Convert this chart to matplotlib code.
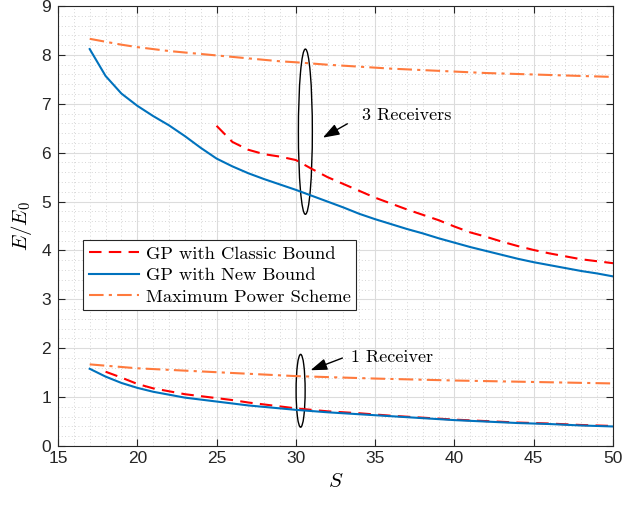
import matplotlib.pyplot as plt
from matplotlib.patches import Ellipse
from matplotlib.ticker import MultipleLocator

# 3 receivers
s_max3 = [17, 18, 19, 20, 21, 22, 23, 24, 25, 26, 27, 28, 29, 30, 32, 34, 36, 38, 40, 42, 44, 46, 48, 50]
e_max3 = [8.33, 8.27, 8.21, 8.16, 8.12, 8.08, 8.05, 8.02, 7.99, 7.96, 7.93, 7.90, 7.87, 7.85,
          7.80, 7.76, 7.72, 7.69, 7.66, 7.63, 7.61, 7.59, 7.57, 7.55]
s_new3 = list(range(17, 51))
e_new3 = [8.12, 7.57, 7.21, 6.96, 6.75, 6.56, 6.34, 6.10, 5.88, 5.72, 5.58, 5.46, 5.35, 5.24,
          5.12, 5.00, 4.88, 4.75, 4.64, 4.54, 4.44, 4.35, 4.25, 4.16,
          4.07, 3.99, 3.91, 3.83, 3.76, 3.70, 3.64, 3.58, 3.53, 3.47]
s_cls3 = list(range(25, 51))
e_cls3 = [6.55, 6.22, 6.06, 5.97, 5.92, 5.85, 5.67, 5.50, 5.36, 5.22, 5.08, 4.96, 4.84, 4.73,
          4.62, 4.49, 4.37, 4.28, 4.18, 4.09, 4.01, 3.94, 3.88, 3.82, 3.78, 3.74]

# 1 receiver
s_max1 = [17, 20, 25, 30, 35, 40, 45, 50]
e_max1 = [1.67, 1.59, 1.51, 1.43, 1.38, 1.34, 1.31, 1.28]
s_new1 = [17, 18, 19, 20, 21, 22, 23, 24, 25, 26, 27, 28, 29, 30, 32, 34, 36, 38, 40, 42, 44, 46, 48, 50]
e_new1 = [1.58, 1.42, 1.29, 1.19, 1.11, 1.05, 0.99, 0.95, 0.91, 0.87, 0.83, 0.80, 0.77, 0.74,
          0.69, 0.65, 0.61, 0.57, 0.53, 0.50, 0.47, 0.45, 0.42, 0.40]
s_cls1 = [18, 19, 20, 21, 22, 23, 24, 25, 26, 27, 28, 29, 30, 32, 34, 36, 38, 40, 42, 44, 46, 48, 50]
e_cls1 = [1.52, 1.40, 1.27, 1.18, 1.12, 1.06, 1.02, 0.98, 0.94, 0.89, 0.85, 0.81, 0.77,
          0.71, 0.67, 0.62, 0.58, 0.54, 0.51, 0.48, 0.46, 0.43, 0.41]

labels = ['GP with Classic Bound', 'GP with New Bound', 'Maximum Power Scheme']

plt.rcParams['mathtext.fontset'] = 'cm'
blue = '#0072BD'
red = '#FF0000'
orange = '#FF7A3D'

fig = plt.figure(figsize=(6.25, 5.05), dpi=100)
ax = fig.add_axes([0.0928, 0.1168, 0.888, 0.8712])

ax.plot(s_cls3, e_cls3, '--', color=red, lw=1.5, dashes=(6, 3.5), label=labels[0])
ax.plot(s_new3, e_new3, '-', color=blue, lw=1.5, label=labels[1])
ax.plot(s_max3, e_max3, '-.', color=orange, lw=1.5, dashes=(7, 2.5, 1.5, 2.5), label=labels[2])
ax.plot(s_cls1, e_cls1, '--', color=red, lw=1.5, dashes=(6, 3.5))
ax.plot(s_new1, e_new1, '-', color=blue, lw=1.5)
ax.plot(s_max1, e_max1, '-.', color=orange, lw=1.5, dashes=(7, 2.5, 1.5, 2.5))

ax.set_xlim(15, 50)
ax.set_ylim(0, 9)
ax.xaxis.set_major_locator(MultipleLocator(5))
ax.xaxis.set_minor_locator(MultipleLocator(1))
ax.yaxis.set_major_locator(MultipleLocator(1))
ax.yaxis.set_minor_locator(MultipleLocator(0.2))
ax.grid(which='major', color='#dcdcdc', lw=0.8)
ax.grid(which='minor', color='#c8c8c8', lw=0.6, linestyle=(0, (1, 3)))
ax.set_axisbelow(True)
ax.tick_params(which='both', direction='in', top=True, right=True, labelsize=12.5, color='#262626')
ax.tick_params(which='minor', length=0)
ax.tick_params(which='major', length=5)
ax.tick_params(axis='y', pad=5)
for lab in ax.get_xticklabels() + ax.get_yticklabels():
    lab.set_family('Liberation Sans')
    lab.set_color('#262626')
for sp in ax.spines.values():
    sp.set_color('#262626')
    sp.set_linewidth(0.8)

ax.set_xlabel('$S$', fontsize=15, labelpad=4)
ax.set_ylabel('$E/E_0$', fontsize=15, labelpad=5)

# annotations
ax.add_patch(Ellipse((30.6, 6.43), 0.88, 3.38, fill=False, ec='k', lw=1))
ax.add_patch(Ellipse((30.3, 1.13), 0.57, 1.49, fill=False, ec='k', lw=1))
ax.annotate('', xy=(31.55, 6.28), xytext=(33.4, 6.62),
            arrowprops=dict(arrowstyle='-|>,head_length=1.0,head_width=0.35', color='k', lw=1))
ax.annotate('', xy=(30.76, 1.53), xytext=(33.1, 1.82),
            arrowprops=dict(arrowstyle='-|>,head_length=1.0,head_width=0.35', color='k', lw=1))
ax.text(34.2, 6.77, '3 Receivers', family='cmr10', fontsize=13, va='center')
ax.text(33.5, 1.82, '1 Receiver', family='cmr10', fontsize=13, va='center')

leg = ax.legend(loc='upper left', bbox_to_anchor=(0.045, 0.468), prop={'family': 'cmr10', 'size': 13.3},
                fancybox=False, edgecolor='#262626', framealpha=1, handlelength=2.75,
                borderpad=0.3, borderaxespad=0, labelspacing=0.3, handletextpad=0.35)
leg.get_frame().set_linewidth(0.8)

fig.savefig('out.png', dpi=100)
